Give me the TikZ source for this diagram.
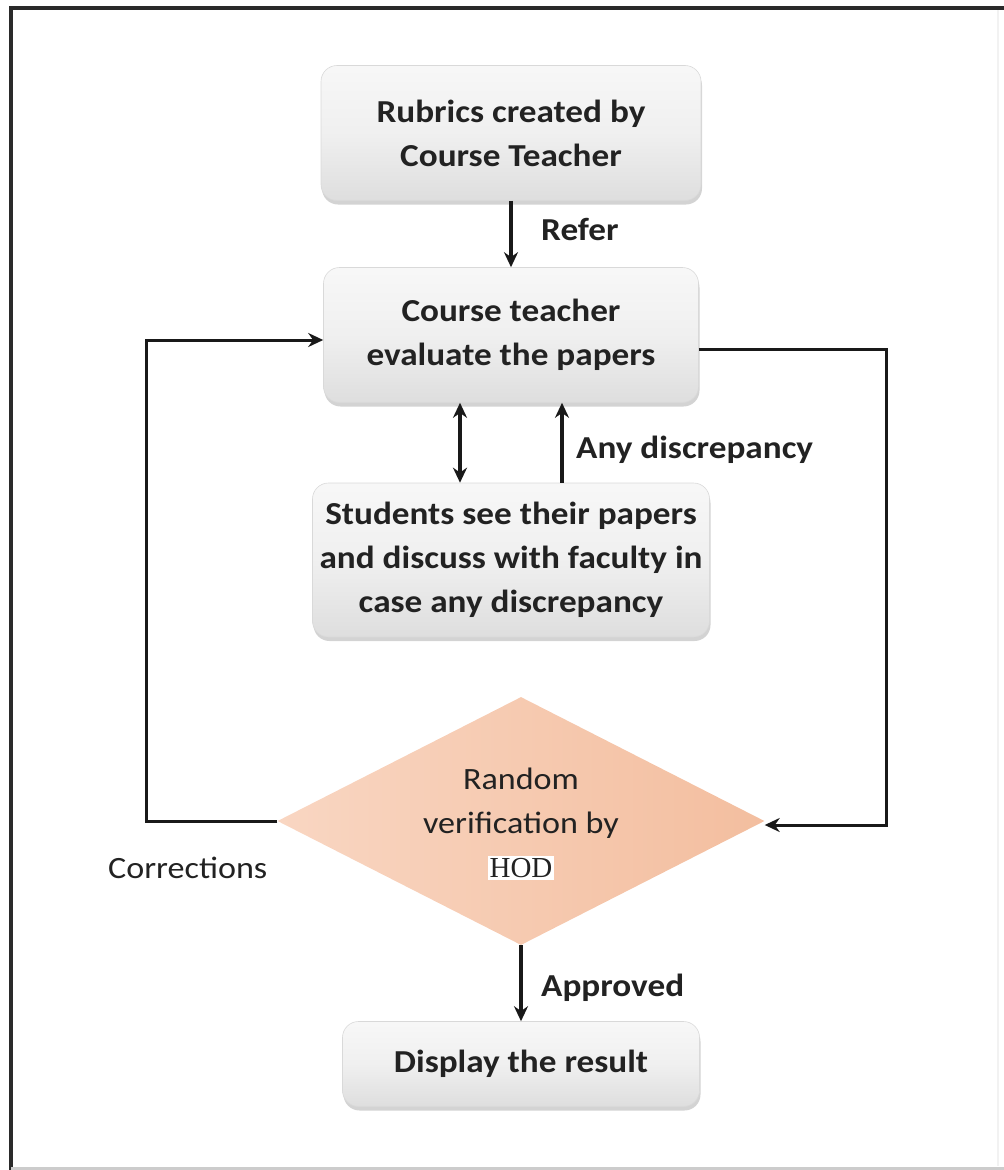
\documentclass[tikz,border=0pt]{standalone}
\usepackage{fontspec}
\setmainfont{Carlito}[FakeStretch=1.1]
\newfontfamily\hodfont{Liberation Serif}
\usetikzlibrary{arrows.meta,shapes.geometric,shadows}
\definecolor{txt}{HTML}{222222}
\definecolor{peachL}{HTML}{F9D6C2}
\definecolor{peachD}{HTML}{F3BE9F}
\definecolor{frame}{HTML}{2A2A2A}
\tikzset{
  procbox/.style={rounded corners=16pt, top color=gray!6, bottom color=gray!26,
    middle color=gray!12, draw=gray!30, line width=0.6pt,
    drop shadow={shadow xshift=1pt, shadow yshift=-4pt, opacity=0.35, fill=gray},
    align=center, text=txt, font=\bfseries\fontsize{32}{44}\selectfont, inner sep=0pt},
  lbl/.style={text=txt, font=\bfseries\fontsize{32}{44}\selectfont, inner sep=0pt},
  conn/.style={line width=3.6pt, draw=black!90},
  tip/.style={-{Stealth[length=15pt,width=14pt]}},
}
\begin{document}
\begin{tikzpicture}[x=1pt,y=-1pt]
\useasboundingbox (0,0) rectangle (1004,1170);
% frame
\draw[frame, line width=4pt] (11,1170) -- (11,8) -- (1004,8);
\draw[gray!10, line width=2pt] (998,10) -- (998,1166);
\draw[gray!40, line width=3pt] (11,1168) -- (1004,1168);

% nodes
\node[procbox, minimum width=380pt, minimum height=135pt] (b1) at (511,133)
  {Rubrics created by\\Course Teacher};
\node[procbox, minimum width=375pt, minimum height=135pt] (b2) at (511,335)
  {Course teacher\\evaluate the papers};
\node[procbox, minimum width=397pt, minimum height=154pt] (b3) at (511,560)
  {Students see their papers\\and discuss with faculty in\\case any discrepancy};
\node[diamond, minimum width=487pt, minimum height=248pt, inner sep=0pt,
  left color=peachL, right color=peachD] (dia) at (521,821) {};
\node[align=center, text=txt, font=\fontsize{31}{44}\selectfont, inner sep=0pt] (diat) at (521,803)
  {Random\\verification by};
\node[fill=white, text=txt, font=\hodfont\fontsize{29}{30}\selectfont, inner sep=2pt] (hod) at (521,868) {HOD};
\node[procbox, minimum width=357pt, minimum height=85pt] (b4) at (521,1064)
  {Display the result};

% labels
\node[lbl, anchor=west] (refer) at (541,229) {Refer};
\node[lbl, anchor=west] (anyd) at (576,450) {Any discrepancy};
\node[text=txt, font=\fontsize{31}{43}\selectfont, inner sep=0pt, anchor=west] (corr) at (108,868) {Corrections};
\node[lbl, anchor=west] (appr) at (541,988) {Approved};

% connectors
\coordinate (c1) at (460,0);
\coordinate (c2) at (562,0);
\coordinate (rx) at (886,0);
\coordinate (lx) at (146,0);
\draw[conn, tip] (b1.south) -- (b2.north);
\draw[conn, {Stealth[length=15pt,width=14pt]}-{Stealth[length=15pt,width=14pt]}] (b2.south -| c1) -- (b3.north -| c1);
\draw[conn, tip] (b3.north -| c2) -- (b2.south -| c2);
\draw[conn, tip, line width=3pt] ([yshift=-14pt]b2.east) -- ([yshift=-14pt]b2.east -| rx) |- ([yshift=-4pt]dia.east);
\draw[conn, tip, line width=3pt] (dia.west) -- (dia.west -| lx) |- ([yshift=-5pt]b2.west);
\draw[conn, tip] (dia.south) -- (b4.north);
\end{tikzpicture}
\end{document}
